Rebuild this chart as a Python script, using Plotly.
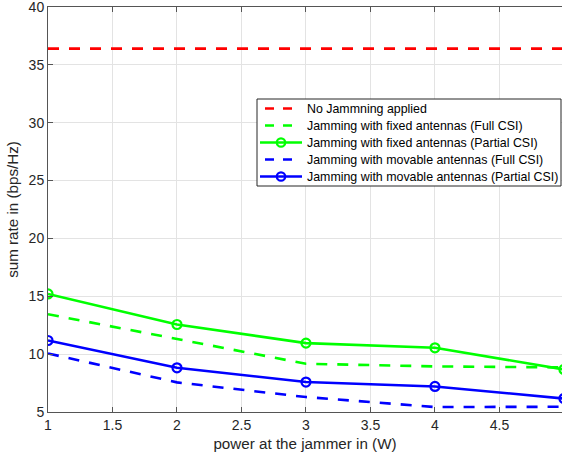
import plotly.graph_objects as go

power = [1, 2, 3, 4, 5]
no_jam = [36.4, 36.4, 36.4, 36.4, 36.4]
fixed_full = [13.45, 11.3, 9.17, 8.94, 8.85]
fixed_partial = [15.2, 12.56, 10.95, 10.55, 8.68]
movable_full = [10.06, 7.56, 6.29, 5.43, 5.45]
movable_partial = [11.18, 8.82, 7.59, 7.21, 6.16]

names = [
    "No Jammning applied",
    "Jamming with fixed antennas (Full CSI)",
    "Jamming with fixed antennas (Partial CSI)",
    "Jamming with movable antennas (Full CSI)",
    "Jamming with movable antennas (Partial CSI)",
]
colors = ["#ff0000", "#00ff00", "#00ff00", "#0000ff", "#0000ff"]
has_marker = [False, False, True, False, True]
series = [no_jam, fixed_full, fixed_partial, movable_full, movable_partial]

x_ticks = [1, 1.5, 2, 2.5, 3, 3.5, 4, 4.5, 5]
x_ticktext = ["1", "1.5", "2", "2.5", "3", "3.5", "4", "4.5", "5"]
y_ticks = [5, 10, 15, 20, 25, 30, 35, 40]

FONT = "Liberation Sans, Arial, Helvetica, sans-serif"
DASH = "11px,10px"
W, H = 562, 464
ML, MR, MT, MB = 48, 0, 7, 52

fig = go.Figure()
for name, col, mk, ys in zip(names, colors, has_marker, series):
    if mk:
        fig.add_trace(go.Scatter(
            x=power, y=ys, mode="lines+markers", name=name,
            line=dict(color=col, width=2.6),
            marker=dict(symbol="circle-open", size=9, color=col, line=dict(width=2.2, color=col)),
        ))
    else:
        fig.add_trace(go.Scatter(
            x=power, y=ys, mode="lines", name=name,
            line=dict(color=col, width=2.6, dash=DASH),
        ))


def px(xp):
    return (xp - ML) / (W - ML - MR)


def py(yp):
    return (H - MB - yp) / (H - MT - MB)


# manual legend (MATLAB style box)
shapes = []
annotations = []
box_l, box_r, box_t, box_b = 257, 561, 99, 186
shapes.append(dict(type="rect", xref="paper", yref="paper",
                   x0=px(box_l), x1=px(box_r), y0=py(box_b), y1=py(box_t),
                   fillcolor="white", line=dict(color="#262626", width=1), layer="above"))
row0, row_step = 108.5, 17
for i, (name, col, mk) in enumerate(zip(names, colors, has_marker)):
    yc = py(row0 + i * row_step)
    if mk:
        shapes.append(dict(type="line", xref="paper", yref="paper",
                           x0=px(260), x1=px(302), y0=yc, y1=yc,
                           line=dict(color=col, width=2.6), layer="above"))
        shapes.append(dict(type="circle", xref="paper", yref="paper",
                           xsizemode="pixel", ysizemode="pixel",
                           xanchor=px(281), yanchor=yc,
                           x0=-4.2, x1=4.2, y0=-4.2, y1=4.2,
                           line=dict(color=col, width=2.2), layer="above"))
    else:
        shapes.append(dict(type="line", xref="paper", yref="paper",
                           x0=px(265), x1=px(293), y0=yc, y1=yc,
                           line=dict(color=col, width=2.6, dash="9px,9px"), layer="above"))
    annotations.append(dict(xref="paper", yref="paper", x=px(305), y=yc,
                            xanchor="left", yanchor="middle", showarrow=False,
                            text=name, font=dict(family=FONT, size=12.4, color="#000000")))

axis_common = dict(
    showgrid=True, gridcolor="#e3e3e3", gridwidth=1,
    showline=True, linecolor="#555555", linewidth=1,
    ticks="inside", ticklen=5, tickcolor="#555555",
    tickfont=dict(family=FONT, size=14, color="#262626"),
    ticklabeloverflow="allow",
    zeroline=False,
)

fig.update_layout(
    width=W, height=H,
    margin=dict(l=ML, r=MR, t=MT, b=MB),
    paper_bgcolor="white", plot_bgcolor="white",
    font=dict(family=FONT, color="#262626"),
    showlegend=False,
    shapes=shapes,
    annotations=annotations,
)
fig.update_xaxes(
    **axis_common, range=[1, 4.985], tickvals=x_ticks, ticktext=x_ticktext,
    mirror="ticks",
    title=dict(text="power at the jammer in (W)", font=dict(family=FONT, size=15.2, color="#262626"), standoff=6),
)
fig.update_yaxes(
    **axis_common, range=[5, 40.0001], tickvals=y_ticks,
    mirror=False,
    title=dict(text="sum rate in (bps/Hz)", font=dict(family=FONT, size=15.2, color="#262626"), standoff=6),
)

fig.write_html("out.html", config={"displayModeBar": False},
               post_script="document.body.style.margin='0';")
